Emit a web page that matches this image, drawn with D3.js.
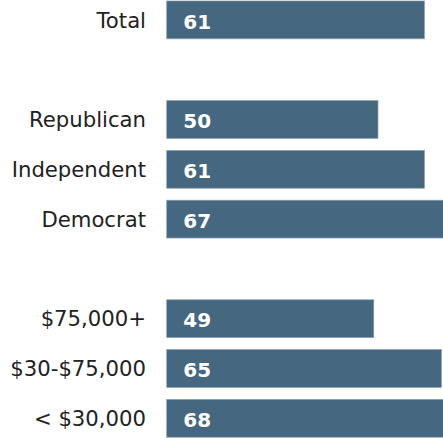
<!DOCTYPE html>
<html>
<head>
<meta charset="utf-8">
<script src="https://cdn.jsdelivr.net/npm/d3@7"></script>
<style>
    body { margin: 0; background: #fff; }
    svg { display: block; }
</style>
</head>
<body>
<script>
(function(){
    // Row labels, top to bottom ("" = empty spacer row)
    var categories = [
        "Total", "",
        "Republican", "Independent", "Democrat", "",
        "$75,000+", "$30-$75,000", "< $30,000"
    ];
    var values = [61, null, 50, 61, 67, null, 49, 65, 68];

    var width = 443, height = 438;
    var barLeft = 166.7;

    var svg = d3.select("body")
        .append("svg")
        .attr("width", width)
        .attr("height", height);

    // x scale: 61 -> 424.5 px
    var x = d3.scaleLinear()
        .domain([0, 61])
        .range([barLeft, 424.5]);

    // one band per row, spacer rows included
    var y = d3.scaleBand()
        .domain(d3.range(categories.length))
        .range([-5, 443.2])
        .paddingInner(0.24)
        .paddingOuter(0.12);

    var rows = categories.map(function(c, i){
        return { label: c, value: values[i], i: i };
    }).filter(function(d){ return d.value !== null; });

    // bars
    svg.selectAll(".bar")
        .data(rows)
        .enter()
        .append("rect")
        .attr("class", "bar")
        .attr("x", x(0))
        .attr("y", d => y(d.i))
        .attr("width", d => x(d.value) - x(0))
        .attr("height", y.bandwidth())
        .attr("fill", "#45677f")
        .attr("stroke", "#8ea2b2")
        .attr("stroke-width", 0.7);

    // category labels
    svg.selectAll(".label")
        .data(rows)
        .enter()
        .append("text")
        .attr("class", "label")
        .attr("x", 146)
        .attr("y", d => y(d.i) + y.bandwidth() / 2)
        .attr("dy", "0.36em")
        .attr("text-anchor", "end")
        .style("font-family", "'DejaVu Sans', sans-serif")
        .style("font-size", "21.2px")
        .style("fill", "#222")
        .text(d => d.label);

    // value labels inside bars
    svg.selectAll(".value")
        .data(rows)
        .enter()
        .append("text")
        .attr("class", "value")
        .attr("x", x(0) + 16.6)
        .attr("y", d => y(d.i) + y.bandwidth() / 2 + 1.5)
        .attr("dy", "0.36em")
        .style("font-family", "'DejaVu Sans', sans-serif")
        .style("font-weight", "bold")
        .style("font-size", "20px")
        .style("fill", "#ffffff")
        .text(d => d.value);
})();
</script>
</body>
</html>
